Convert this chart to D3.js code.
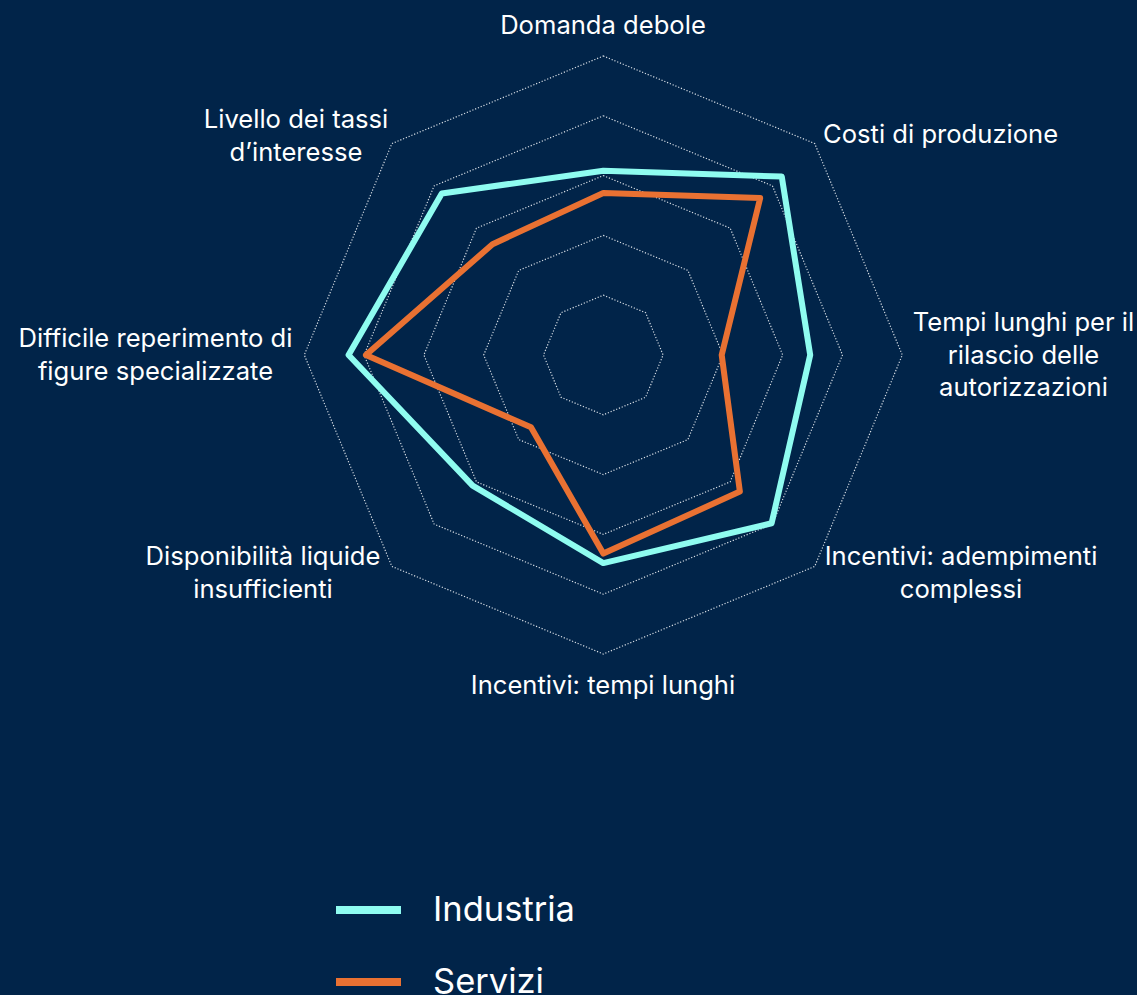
<!DOCTYPE html>
<html>
<head>
<meta charset="utf-8">
<script src="https://cdn.jsdelivr.net/npm/d3@7"></script>
<style>
  html, body { margin: 0; padding: 0; background: #012449; }
  svg { display: block; }
  text { font-family: Inter, "Open Sans", sans-serif; fill: #ffffff; }
</style>
</head>
<body>
<svg id="chart" width="1137" height="995"></svg>
<script>
// ---- data ----
const categories = [
  "Domanda debole",
  "Costi di produzione",
  "Tempi lunghi per il rilascio delle autorizzazioni",
  "Incentivi: adempimenti complessi",
  "Incentivi: tempi lunghi",
  "Disponibilità liquide insufficienti",
  "Difficile reperimento di figure specializzate",
  "Livello dei tassi d’interesse"
];
const industria = [30.8, 42.2, 34.6, 39.8, 34.8, 30.9, 42.6, 38.2];
const servizi   = [27.1, 37.1, 19.8, 32.3, 33.2, 17.1, 39.7, 26.2];
const gridTicks = [10, 20, 30, 40, 50];
const seriesNames = ["Industria", "Servizi"];

// ---- layout ----
const W = 1137, H = 995;
const cx = 603.3, cy = 355;
const R = 299;
const colors = ["#8ffcf0", "#e97132"];

const svg = d3.select("#chart");
svg.append("rect").attr("width", W).attr("height", H).attr("fill", "#012449");

const r = d3.scaleLinear().domain([0, 50]).range([0, R]);
const angle = d3.scalePoint().domain(d3.range(categories.length + 1)).range([0, 2 * Math.PI]);
const ang = i => angle(i);

const g = svg.append("g").attr("transform", `translate(${cx},${cy})`);

// grid rings
const ringLine = d3.lineRadial().angle((d, i) => ang(i)).radius(d => r(d)).curve(d3.curveLinearClosed);
g.selectAll("path.ring").data(gridTicks).join("path")
  .attr("class", "ring")
  .attr("d", t => ringLine(categories.map(() => t)))
  .attr("fill", "none")
  .attr("stroke", "#d6dce3")
  .attr("stroke-width", 1.2)
  .attr("stroke-dasharray", "1.2,1.8");

// series
const series = [industria, servizi];
const radial = d3.lineRadial().angle((d, i) => ang(i)).radius(d => r(d)).curve(d3.curveLinearClosed);
g.selectAll("path.series").data(series).join("path")
  .attr("class", "series")
  .attr("d", d => radial(d))
  .attr("fill", "none")
  .attr("stroke", (d, i) => colors[i])
  .attr("stroke-width", 6)
  .attr("stroke-linejoin", "round");

// category labels (wrapped lines, centred positions)
const labelLines = [
  ["Domanda debole"],
  ["Costi di produzione"],
  ["Tempi lunghi per il", "rilascio delle", "autorizzazioni"],
  ["Incentivi: adempimenti", "complessi"],
  ["Incentivi: tempi lunghi"],
  ["Disponibilità liquide", "insufficienti"],
  ["Difficile reperimento di", "figure specializzate"],
  ["Livello dei tassi", "d’interesse"]
];
const labelPos = [
  [603, 24, "middle"],
  [823, 133, "start"],
  [1023.5, 321, "middle"],
  [961, 555, "middle"],
  [603, 684, "middle"],
  [263, 555, "middle"],
  [155.5, 337, "middle"],
  [296, 118, "middle"]
];
const lh = 32.5;
labelLines.forEach((lines, i) => {
  const [x, y, anchor] = labelPos[i];
  const t = svg.append("text")
    .attr("text-anchor", anchor)
    .attr("font-size", 25.6)
    .attr("dominant-baseline", "central");
  lines.forEach((ln, j) => {
    t.append("tspan").attr("x", x).attr("y", y + j * lh).text(ln);
  });
});

// legend
const leg = svg.append("g");
seriesNames.forEach((name, i) => {
  const y = 910 + i * 72;
  leg.append("line").attr("x1", 336).attr("x2", 401).attr("y1", y).attr("y2", y)
    .attr("stroke", colors[i]).attr("stroke-width", 8);
  leg.append("text").attr("x", 433).attr("y", y - 2).attr("font-size", 34.5)
    .attr("dominant-baseline", "central").text(name);
});
</script>
</body>
</html>
